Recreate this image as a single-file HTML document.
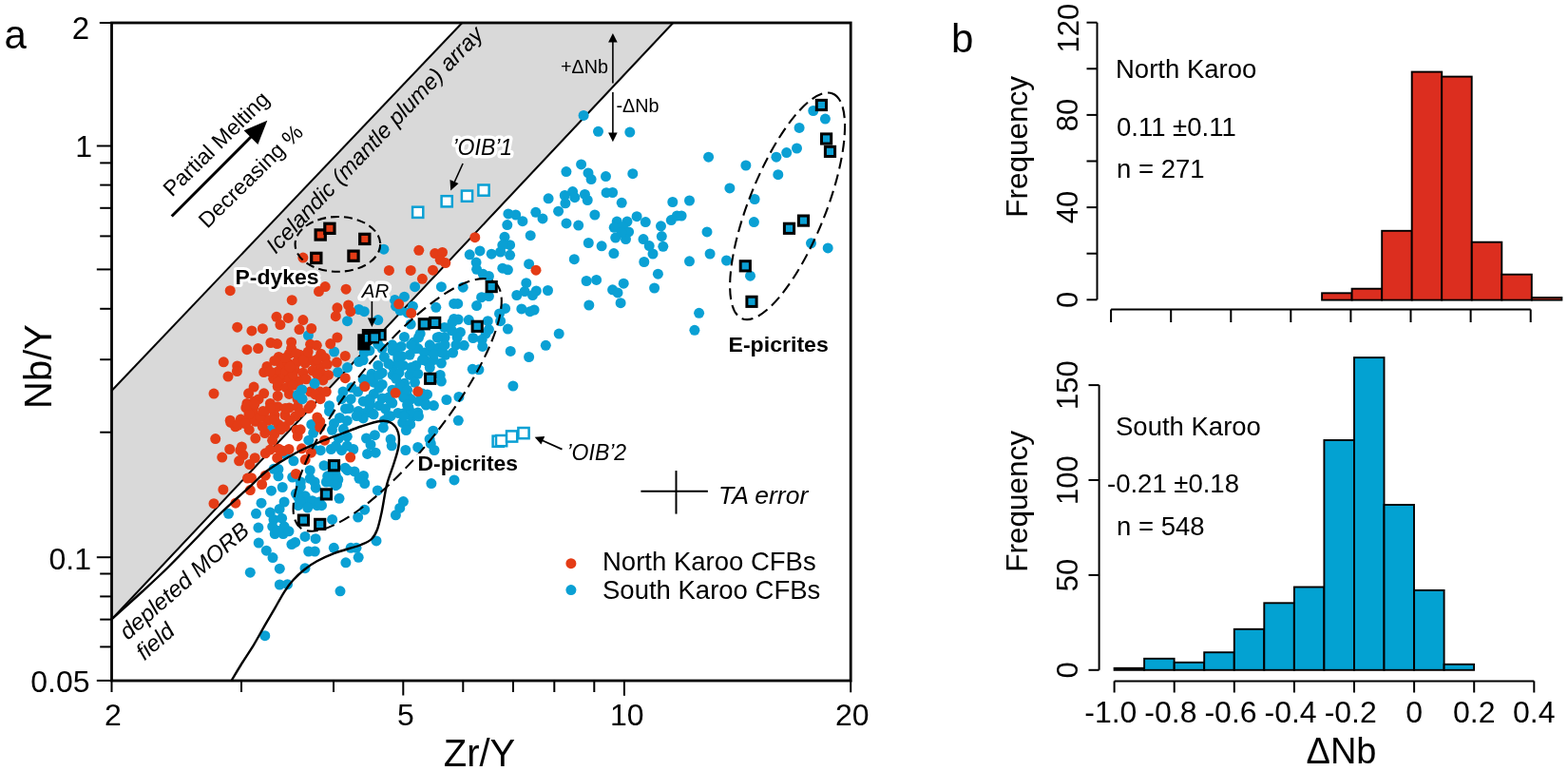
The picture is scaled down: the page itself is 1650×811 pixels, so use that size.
<!DOCTYPE html>
<html><head><meta charset="utf-8"><title>Karoo CFB Nb/Y vs Zr/Y and delta-Nb histograms</title>
<style>html,body{margin:0;padding:0;background:#fff;}svg{display:block;}text{fill:#000;}</style></head>
<body><svg width="1650" height="811" viewBox="0 0 1650 811" font-family='"Liberation Sans", Arial, sans-serif'>
<rect width="1650" height="811" fill="#fff"/>
<polygon points="117.5,411 486.3,24 708.3,24 117.5,651.5" fill="#d9d9d9"/>
<line x1="117.5" y1="411" x2="486.3" y2="24" stroke="#000" stroke-width="2"/>
<line x1="117.5" y1="651.5" x2="708.3" y2="24" stroke="#000" stroke-width="2"/>
<circle cx="614.1" cy="121.4" r="5.5" fill="#0aa0d4"/><circle cx="629.5" cy="138.3" r="5.5" fill="#0aa0d4"/><circle cx="662.8" cy="139.1" r="5.5" fill="#0aa0d4"/><circle cx="611.6" cy="172.9" r="5.5" fill="#0aa0d4"/><circle cx="595.9" cy="180.6" r="5.5" fill="#0aa0d4"/><circle cx="619.0" cy="181.9" r="5.5" fill="#0aa0d4"/><circle cx="637.5" cy="185.6" r="5.5" fill="#0aa0d4"/><circle cx="665.8" cy="182.7" r="5.5" fill="#0aa0d4"/><circle cx="622.1" cy="188.6" r="5.5" fill="#0aa0d4"/><circle cx="644.6" cy="202.5" r="5.5" fill="#0aa0d4"/><circle cx="654.2" cy="213.3" r="5.5" fill="#0aa0d4"/><circle cx="707.8" cy="212.5" r="5.5" fill="#0aa0d4"/><circle cx="725.5" cy="211.0" r="5.5" fill="#0aa0d4"/><circle cx="745.6" cy="165.2" r="5.5" fill="#0aa0d4"/><circle cx="784.9" cy="174.0" r="5.5" fill="#0aa0d4"/><circle cx="767.9" cy="197.9" r="5.5" fill="#0aa0d4"/><circle cx="794.1" cy="209.5" r="5.5" fill="#0aa0d4"/><circle cx="818.8" cy="183.7" r="5.5" fill="#0aa0d4"/><circle cx="816.9" cy="165.2" r="5.5" fill="#0aa0d4"/><circle cx="827.7" cy="160.6" r="5.5" fill="#0aa0d4"/><circle cx="838.5" cy="156.0" r="5.5" fill="#0aa0d4"/><circle cx="841.1" cy="134.4" r="5.5" fill="#0aa0d4"/><circle cx="855.8" cy="116.5" r="5.5" fill="#0aa0d4"/><circle cx="868.4" cy="125.1" r="5.5" fill="#0aa0d4"/><circle cx="670.1" cy="227.7" r="5.5" fill="#0aa0d4"/><circle cx="679.3" cy="233.6" r="5.5" fill="#0aa0d4"/><circle cx="649.2" cy="233.1" r="5.5" fill="#0aa0d4"/><circle cx="660.0" cy="233.1" r="5.5" fill="#0aa0d4"/><circle cx="646.2" cy="239.3" r="5.5" fill="#0aa0d4"/><circle cx="655.4" cy="238.5" r="5.5" fill="#0aa0d4"/><circle cx="661.6" cy="243.9" r="5.5" fill="#0aa0d4"/><circle cx="647.7" cy="250.1" r="5.5" fill="#0aa0d4"/><circle cx="658.5" cy="251.6" r="5.5" fill="#0aa0d4"/><circle cx="653.9" cy="244.7" r="5.5" fill="#0aa0d4"/><circle cx="695.5" cy="237.8" r="5.5" fill="#0aa0d4"/><circle cx="696.3" cy="248.6" r="5.5" fill="#0aa0d4"/><circle cx="697.8" cy="259.3" r="5.5" fill="#0aa0d4"/><circle cx="677.0" cy="251.6" r="5.5" fill="#0aa0d4"/><circle cx="683.2" cy="258.6" r="5.5" fill="#0aa0d4"/><circle cx="687.0" cy="267.0" r="5.5" fill="#0aa0d4"/><circle cx="706.3" cy="231.6" r="5.5" fill="#0aa0d4"/><circle cx="712.4" cy="227.0" r="5.5" fill="#0aa0d4"/><circle cx="717.1" cy="227.0" r="5.5" fill="#0aa0d4"/><circle cx="645.9" cy="266.6" r="5.5" fill="#0aa0d4"/><circle cx="677.8" cy="275.5" r="5.5" fill="#0aa0d4"/><circle cx="725.5" cy="274.8" r="5.5" fill="#0aa0d4"/><circle cx="744.0" cy="243.9" r="5.5" fill="#0aa0d4"/><circle cx="747.1" cy="267.0" r="5.5" fill="#0aa0d4"/><circle cx="764.5" cy="274.0" r="5.5" fill="#0aa0d4"/><circle cx="793.4" cy="233.6" r="5.5" fill="#0aa0d4"/><circle cx="692.4" cy="288.2" r="5.5" fill="#0aa0d4"/><circle cx="656.2" cy="298.2" r="5.5" fill="#0aa0d4"/><circle cx="688.6" cy="303.0" r="5.5" fill="#0aa0d4"/><circle cx="644.6" cy="304.8" r="5.5" fill="#0aa0d4"/><circle cx="650.0" cy="307.9" r="5.5" fill="#0aa0d4"/><circle cx="653.1" cy="318.7" r="5.5" fill="#0aa0d4"/><circle cx="789.5" cy="290.2" r="5.5" fill="#0aa0d4"/><circle cx="853.5" cy="255.8" r="5.5" fill="#0aa0d4"/><circle cx="871.2" cy="260.9" r="5.5" fill="#0aa0d4"/><circle cx="735.6" cy="329.3" r="5.5" fill="#0aa0d4"/><circle cx="730.9" cy="347.3" r="5.5" fill="#0aa0d4"/><circle cx="577.1" cy="208.8" r="5.5" fill="#0aa0d4"/><circle cx="594.3" cy="205.5" r="5.5" fill="#0aa0d4"/><circle cx="602.6" cy="201.6" r="5.5" fill="#0aa0d4"/><circle cx="604.8" cy="207.7" r="5.5" fill="#0aa0d4"/><circle cx="594.9" cy="213.8" r="5.5" fill="#0aa0d4"/><circle cx="587.6" cy="222.2" r="5.5" fill="#0aa0d4"/><circle cx="615.4" cy="204.4" r="5.5" fill="#0aa0d4"/><circle cx="618.2" cy="210.5" r="5.5" fill="#0aa0d4"/><circle cx="638.1" cy="202.7" r="5.5" fill="#0aa0d4"/><circle cx="625.9" cy="226.0" r="5.5" fill="#0aa0d4"/><circle cx="596.0" cy="234.9" r="5.5" fill="#0aa0d4"/><circle cx="608.7" cy="237.1" r="5.5" fill="#0aa0d4"/><circle cx="534.9" cy="224.9" r="5.5" fill="#0aa0d4"/><circle cx="542.7" cy="226.0" r="5.5" fill="#0aa0d4"/><circle cx="549.9" cy="232.7" r="5.5" fill="#0aa0d4"/><circle cx="563.8" cy="223.3" r="5.5" fill="#0aa0d4"/><circle cx="571.0" cy="229.9" r="5.5" fill="#0aa0d4"/><circle cx="533.8" cy="236.6" r="5.5" fill="#0aa0d4"/><circle cx="558.2" cy="247.7" r="5.5" fill="#0aa0d4"/><circle cx="531.0" cy="249.3" r="5.5" fill="#0aa0d4"/><circle cx="536.6" cy="257.7" r="5.5" fill="#0aa0d4"/><circle cx="619.3" cy="255.5" r="5.5" fill="#0aa0d4"/><circle cx="633.1" cy="258.8" r="5.5" fill="#0aa0d4"/><circle cx="494.2" cy="267.8" r="5.5" fill="#0aa0d4"/><circle cx="505.0" cy="263.9" r="5.5" fill="#0aa0d4"/><circle cx="517.2" cy="267.2" r="5.5" fill="#0aa0d4"/><circle cx="526.6" cy="265.0" r="5.5" fill="#0aa0d4"/><circle cx="536.6" cy="268.3" r="5.5" fill="#0aa0d4"/><circle cx="528.8" cy="257.8" r="5.5" fill="#0aa0d4"/><circle cx="501.1" cy="276.1" r="5.5" fill="#0aa0d4"/><circle cx="501.6" cy="283.3" r="5.5" fill="#0aa0d4"/><circle cx="508.3" cy="288.3" r="5.5" fill="#0aa0d4"/><circle cx="514.4" cy="290.5" r="5.5" fill="#0aa0d4"/><circle cx="528.8" cy="282.2" r="5.5" fill="#0aa0d4"/><circle cx="534.4" cy="283.8" r="5.5" fill="#0aa0d4"/><circle cx="556.6" cy="277.7" r="5.5" fill="#0aa0d4"/><circle cx="604.3" cy="272.7" r="5.5" fill="#0aa0d4"/><circle cx="617.1" cy="295.5" r="5.5" fill="#0aa0d4"/><circle cx="627.6" cy="294.4" r="5.5" fill="#0aa0d4"/><circle cx="619.8" cy="321.0" r="5.5" fill="#0aa0d4"/><circle cx="553.8" cy="297.7" r="5.5" fill="#0aa0d4"/><circle cx="543.8" cy="310.5" r="5.5" fill="#0aa0d4"/><circle cx="552.1" cy="306.6" r="5.5" fill="#0aa0d4"/><circle cx="564.3" cy="306.0" r="5.5" fill="#0aa0d4"/><circle cx="560.5" cy="310.5" r="5.5" fill="#0aa0d4"/><circle cx="576.5" cy="305.5" r="5.5" fill="#0aa0d4"/><circle cx="548.8" cy="324.9" r="5.5" fill="#0aa0d4"/><circle cx="562.1" cy="326.0" r="5.5" fill="#0aa0d4"/><circle cx="557.7" cy="327.7" r="5.5" fill="#0aa0d4"/><circle cx="487.2" cy="302.2" r="5.5" fill="#0aa0d4"/><circle cx="506.6" cy="312.7" r="5.5" fill="#0aa0d4"/><circle cx="514.4" cy="311.6" r="5.5" fill="#0aa0d4"/><circle cx="501.6" cy="321.6" r="5.5" fill="#0aa0d4"/><circle cx="481.7" cy="319.4" r="5.5" fill="#0aa0d4"/><circle cx="531.6" cy="324.4" r="5.5" fill="#0aa0d4"/><circle cx="525.5" cy="329.9" r="5.5" fill="#0aa0d4"/><circle cx="482.2" cy="336.0" r="5.5" fill="#0aa0d4"/><circle cx="493.3" cy="336.6" r="5.5" fill="#0aa0d4"/><circle cx="513.3" cy="337.7" r="5.5" fill="#0aa0d4"/><circle cx="526.6" cy="337.7" r="5.5" fill="#0aa0d4"/><circle cx="514.4" cy="346.6" r="5.5" fill="#0aa0d4"/><circle cx="534.4" cy="346.1" r="5.5" fill="#0aa0d4"/><circle cx="588.2" cy="351.1" r="5.5" fill="#0aa0d4"/><circle cx="574.3" cy="363.3" r="5.5" fill="#0aa0d4"/><circle cx="537.2" cy="369.4" r="5.5" fill="#0aa0d4"/><circle cx="556.6" cy="375.5" r="5.5" fill="#0aa0d4"/><circle cx="484.4" cy="349.4" r="5.5" fill="#0aa0d4"/><circle cx="481.1" cy="355.0" r="5.5" fill="#0aa0d4"/><circle cx="488.3" cy="363.3" r="5.5" fill="#0aa0d4"/><circle cx="497.8" cy="355.5" r="5.5" fill="#0aa0d4"/><circle cx="507.2" cy="357.2" r="5.5" fill="#0aa0d4"/><circle cx="507.7" cy="364.4" r="5.5" fill="#0aa0d4"/><circle cx="511.1" cy="351.1" r="5.5" fill="#0aa0d4"/><circle cx="497.2" cy="388.3" r="5.5" fill="#0aa0d4"/><circle cx="503.9" cy="388.8" r="5.5" fill="#0aa0d4"/><circle cx="539.9" cy="406.0" r="5.5" fill="#0aa0d4"/><circle cx="423.7" cy="412.5" r="5.5" fill="#0aa0d4"/><circle cx="432.3" cy="419.9" r="5.5" fill="#0aa0d4"/><circle cx="449.6" cy="414.9" r="5.5" fill="#0aa0d4"/><circle cx="447.1" cy="423.6" r="5.5" fill="#0aa0d4"/><circle cx="456.4" cy="426.6" r="5.5" fill="#0aa0d4"/><circle cx="469.9" cy="420.5" r="5.5" fill="#0aa0d4"/><circle cx="482.3" cy="442.3" r="5.5" fill="#0aa0d4"/><circle cx="439.7" cy="434.0" r="5.5" fill="#0aa0d4"/><circle cx="429.9" cy="428.5" r="5.5" fill="#0aa0d4"/><circle cx="424.9" cy="434.7" r="5.5" fill="#0aa0d4"/><circle cx="433.6" cy="438.4" r="5.5" fill="#0aa0d4"/><circle cx="423.7" cy="444.5" r="5.5" fill="#0aa0d4"/><circle cx="431.7" cy="446.4" r="5.5" fill="#0aa0d4"/><circle cx="427.4" cy="452.5" r="5.5" fill="#0aa0d4"/><circle cx="455.8" cy="453.2" r="5.5" fill="#0aa0d4"/><circle cx="452.1" cy="461.8" r="5.5" fill="#0aa0d4"/><circle cx="453.3" cy="466.7" r="5.5" fill="#0aa0d4"/><circle cx="457.0" cy="473.5" r="5.5" fill="#0aa0d4"/><circle cx="439.7" cy="470.4" r="5.5" fill="#0aa0d4"/><circle cx="426.8" cy="473.5" r="5.5" fill="#0aa0d4"/><circle cx="478.0" cy="504.9" r="5.5" fill="#0aa0d4"/><circle cx="453.9" cy="508.6" r="5.5" fill="#0aa0d4"/><circle cx="382.5" cy="500.5" r="5.5" fill="#0aa0d4"/><circle cx="383.7" cy="508.5" r="5.5" fill="#0aa0d4"/><circle cx="397.3" cy="515.9" r="5.5" fill="#0aa0d4"/><circle cx="424.4" cy="527.6" r="5.5" fill="#0aa0d4"/><circle cx="420.7" cy="534.4" r="5.5" fill="#0aa0d4"/><circle cx="416.4" cy="541.8" r="5.5" fill="#0aa0d4"/><circle cx="383.7" cy="536.2" r="5.5" fill="#0aa0d4"/><circle cx="396.0" cy="568.9" r="5.5" fill="#0aa0d4"/><circle cx="272.2" cy="571.1" r="5.5" fill="#0aa0d4"/><circle cx="280.3" cy="579.2" r="5.5" fill="#0aa0d4"/><circle cx="287.0" cy="586.6" r="5.5" fill="#0aa0d4"/><circle cx="263.3" cy="602.2" r="5.5" fill="#0aa0d4"/><circle cx="294.3" cy="598.2" r="5.5" fill="#0aa0d4"/><circle cx="294.3" cy="615.0" r="5.5" fill="#0aa0d4"/><circle cx="302.5" cy="614.7" r="5.5" fill="#0aa0d4"/><circle cx="321.0" cy="597.7" r="5.5" fill="#0aa0d4"/><circle cx="306.9" cy="572.6" r="5.5" fill="#0aa0d4"/><circle cx="310.6" cy="570.4" r="5.5" fill="#0aa0d4"/><circle cx="324.7" cy="580.0" r="5.5" fill="#0aa0d4"/><circle cx="331.3" cy="580.0" r="5.5" fill="#0aa0d4"/><circle cx="321.0" cy="564.4" r="5.5" fill="#0aa0d4"/><circle cx="332.1" cy="566.7" r="5.5" fill="#0aa0d4"/><circle cx="289.2" cy="561.5" r="5.5" fill="#0aa0d4"/><circle cx="298.0" cy="561.5" r="5.5" fill="#0aa0d4"/><circle cx="351.3" cy="576.3" r="5.5" fill="#0aa0d4"/><circle cx="369.1" cy="576.3" r="5.5" fill="#0aa0d4"/><circle cx="375.0" cy="576.3" r="5.5" fill="#0aa0d4"/><circle cx="377.2" cy="586.3" r="5.5" fill="#0aa0d4"/><circle cx="363.9" cy="591.8" r="5.5" fill="#0aa0d4"/><circle cx="358.0" cy="621.8" r="5.5" fill="#0aa0d4"/><circle cx="278.8" cy="668.7" r="5.5" fill="#0aa0d4"/><circle cx="240.5" cy="540.3" r="5.5" fill="#0aa0d4"/><circle cx="269.5" cy="540.3" r="5.5" fill="#0aa0d4"/><circle cx="275.0" cy="529.2" r="5.5" fill="#0aa0d4"/><circle cx="285.5" cy="516.2" r="5.5" fill="#0aa0d4"/><circle cx="297.2" cy="512.5" r="5.5" fill="#0aa0d4"/><circle cx="292.9" cy="493.4" r="5.5" fill="#0aa0d4"/><circle cx="292.9" cy="500.8" r="5.5" fill="#0aa0d4"/><circle cx="308.9" cy="484.8" r="5.5" fill="#0aa0d4"/><circle cx="307.7" cy="502.1" r="5.5" fill="#0aa0d4"/><circle cx="326.2" cy="494.7" r="5.5" fill="#0aa0d4"/><circle cx="326.2" cy="503.3" r="5.5" fill="#0aa0d4"/><circle cx="316.3" cy="511.9" r="5.5" fill="#0aa0d4"/><circle cx="318.8" cy="521.8" r="5.5" fill="#0aa0d4"/><circle cx="311.4" cy="519.3" r="5.5" fill="#0aa0d4"/><circle cx="313.8" cy="531.7" r="5.5" fill="#0aa0d4"/><circle cx="323.7" cy="528.0" r="5.5" fill="#0aa0d4"/><circle cx="333.6" cy="531.7" r="5.5" fill="#0aa0d4"/><circle cx="338.5" cy="531.7" r="5.5" fill="#0aa0d4"/><circle cx="332.3" cy="513.2" r="5.5" fill="#0aa0d4"/><circle cx="343.4" cy="507.0" r="5.5" fill="#0aa0d4"/><circle cx="353.3" cy="503.3" r="5.5" fill="#0aa0d4"/><circle cx="354.5" cy="509.5" r="5.5" fill="#0aa0d4"/><circle cx="348.4" cy="500.8" r="5.5" fill="#0aa0d4"/><circle cx="341.0" cy="489.7" r="5.5" fill="#0aa0d4"/><circle cx="363.2" cy="492.2" r="5.5" fill="#0aa0d4"/><circle cx="373.0" cy="495.9" r="5.5" fill="#0aa0d4"/><circle cx="357.0" cy="524.3" r="5.5" fill="#0aa0d4"/><circle cx="376.7" cy="544.0" r="5.5" fill="#0aa0d4"/><circle cx="349.6" cy="546.4" r="5.5" fill="#0aa0d4"/><circle cx="329.9" cy="472.5" r="5.5" fill="#0aa0d4"/><circle cx="337.3" cy="473.7" r="5.5" fill="#0aa0d4"/><circle cx="348.4" cy="472.5" r="5.5" fill="#0aa0d4"/><circle cx="359.5" cy="473.7" r="5.5" fill="#0aa0d4"/><circle cx="371.8" cy="472.5" r="5.5" fill="#0aa0d4"/><circle cx="386.6" cy="477.4" r="5.5" fill="#0aa0d4"/><circle cx="395.2" cy="476.2" r="5.5" fill="#0aa0d4"/><circle cx="284.3" cy="539.1" r="5.5" fill="#0aa0d4"/><circle cx="294.1" cy="535.4" r="5.5" fill="#0aa0d4"/><circle cx="299.1" cy="528.0" r="5.5" fill="#0aa0d4"/><circle cx="288.0" cy="546.4" r="5.5" fill="#0aa0d4"/><circle cx="296.6" cy="545.2" r="5.5" fill="#0aa0d4"/><circle cx="286.7" cy="553.8" r="5.5" fill="#0aa0d4"/><circle cx="299.1" cy="553.8" r="5.5" fill="#0aa0d4"/><circle cx="304.0" cy="558.8" r="5.5" fill="#0aa0d4"/><circle cx="271.9" cy="555.1" r="5.5" fill="#0aa0d4"/><circle cx="391.1" cy="393.3" r="5.5" fill="#0aa0d4"/><circle cx="402.2" cy="392.2" r="5.5" fill="#0aa0d4"/><circle cx="413.3" cy="394.4" r="5.5" fill="#0aa0d4"/><circle cx="420.0" cy="392.2" r="5.5" fill="#0aa0d4"/><circle cx="431.1" cy="394.4" r="5.5" fill="#0aa0d4"/><circle cx="439.9" cy="393.3" r="5.5" fill="#0aa0d4"/><circle cx="463.2" cy="394.4" r="5.5" fill="#0aa0d4"/><circle cx="464.4" cy="401.1" r="5.5" fill="#0aa0d4"/><circle cx="425.5" cy="403.3" r="5.5" fill="#0aa0d4"/><circle cx="402.2" cy="404.4" r="5.5" fill="#0aa0d4"/><circle cx="393.3" cy="402.2" r="5.5" fill="#0aa0d4"/><circle cx="393.3" cy="414.4" r="5.5" fill="#0aa0d4"/><circle cx="402.2" cy="418.9" r="5.5" fill="#0aa0d4"/><circle cx="411.1" cy="422.2" r="5.5" fill="#0aa0d4"/><circle cx="382.2" cy="422.2" r="5.5" fill="#0aa0d4"/><circle cx="388.9" cy="426.6" r="5.5" fill="#0aa0d4"/><circle cx="398.9" cy="426.6" r="5.5" fill="#0aa0d4"/><circle cx="405.5" cy="430.0" r="5.5" fill="#0aa0d4"/><circle cx="384.4" cy="434.4" r="5.5" fill="#0aa0d4"/><circle cx="391.1" cy="434.4" r="5.5" fill="#0aa0d4"/><circle cx="382.2" cy="439.9" r="5.5" fill="#0aa0d4"/><circle cx="428.8" cy="416.6" r="5.5" fill="#0aa0d4"/><circle cx="418.8" cy="434.4" r="5.5" fill="#0aa0d4"/><circle cx="411.1" cy="437.7" r="5.5" fill="#0aa0d4"/><circle cx="404.4" cy="442.2" r="5.5" fill="#0aa0d4"/><circle cx="403.3" cy="449.9" r="5.5" fill="#0aa0d4"/><circle cx="411.1" cy="462.1" r="5.5" fill="#0aa0d4"/><circle cx="412.2" cy="468.8" r="5.5" fill="#0aa0d4"/><circle cx="394.4" cy="457.7" r="5.5" fill="#0aa0d4"/><circle cx="385.5" cy="461.0" r="5.5" fill="#0aa0d4"/><circle cx="390.0" cy="467.7" r="5.5" fill="#0aa0d4"/><circle cx="436.6" cy="301.7" r="5.5" fill="#0aa0d4"/><circle cx="464.4" cy="301.7" r="5.5" fill="#0aa0d4"/><circle cx="425.5" cy="312.2" r="5.5" fill="#0aa0d4"/><circle cx="415.5" cy="315.5" r="5.5" fill="#0aa0d4"/><circle cx="416.6" cy="322.2" r="5.5" fill="#0aa0d4"/><circle cx="421.1" cy="326.6" r="5.5" fill="#0aa0d4"/><circle cx="434.4" cy="322.2" r="5.5" fill="#0aa0d4"/><circle cx="428.8" cy="328.9" r="5.5" fill="#0aa0d4"/><circle cx="458.8" cy="323.3" r="5.5" fill="#0aa0d4"/><circle cx="477.7" cy="319.4" r="5.5" fill="#0aa0d4"/><circle cx="477.7" cy="335.5" r="5.5" fill="#0aa0d4"/><circle cx="383.3" cy="327.7" r="5.5" fill="#0aa0d4"/><circle cx="397.8" cy="336.6" r="5.5" fill="#0aa0d4"/><circle cx="432.2" cy="341.1" r="5.5" fill="#0aa0d4"/><circle cx="442.2" cy="351.1" r="5.5" fill="#0aa0d4"/><circle cx="425.5" cy="354.4" r="5.5" fill="#0aa0d4"/><circle cx="462.1" cy="354.4" r="5.5" fill="#0aa0d4"/><circle cx="467.7" cy="344.4" r="5.5" fill="#0aa0d4"/><circle cx="475.4" cy="347.7" r="5.5" fill="#0aa0d4"/><circle cx="435.5" cy="359.9" r="5.5" fill="#0aa0d4"/><circle cx="439.9" cy="366.6" r="5.5" fill="#0aa0d4"/><circle cx="422.2" cy="364.4" r="5.5" fill="#0aa0d4"/><circle cx="413.3" cy="368.8" r="5.5" fill="#0aa0d4"/><circle cx="402.2" cy="366.6" r="5.5" fill="#0aa0d4"/><circle cx="397.8" cy="362.2" r="5.5" fill="#0aa0d4"/><circle cx="388.9" cy="368.8" r="5.5" fill="#0aa0d4"/><circle cx="383.3" cy="371.0" r="5.5" fill="#0aa0d4"/><circle cx="382.2" cy="378.8" r="5.5" fill="#0aa0d4"/><circle cx="404.4" cy="375.5" r="5.5" fill="#0aa0d4"/><circle cx="418.8" cy="377.7" r="5.5" fill="#0aa0d4"/><circle cx="431.1" cy="373.3" r="5.5" fill="#0aa0d4"/><circle cx="446.6" cy="371.0" r="5.5" fill="#0aa0d4"/><circle cx="455.5" cy="366.6" r="5.5" fill="#0aa0d4"/><circle cx="462.1" cy="365.5" r="5.5" fill="#0aa0d4"/><circle cx="468.8" cy="373.3" r="5.5" fill="#0aa0d4"/><circle cx="476.6" cy="371.0" r="5.5" fill="#0aa0d4"/><circle cx="448.8" cy="379.9" r="5.5" fill="#0aa0d4"/><circle cx="464.4" cy="382.1" r="5.5" fill="#0aa0d4"/><circle cx="437.7" cy="384.4" r="5.5" fill="#0aa0d4"/><circle cx="424.4" cy="384.4" r="5.5" fill="#0aa0d4"/><circle cx="397.8" cy="384.4" r="5.5" fill="#0aa0d4"/><circle cx="413.3" cy="385.5" r="5.5" fill="#0aa0d4"/><circle cx="403.9" cy="262.2" r="5.5" fill="#0aa0d4"/><circle cx="377.7" cy="325.5" r="5.5" fill="#0aa0d4"/><circle cx="365.5" cy="337.7" r="5.5" fill="#0aa0d4"/><circle cx="324.4" cy="352.8" r="5.5" fill="#0aa0d4"/><circle cx="351.6" cy="370.0" r="5.5" fill="#0aa0d4"/><circle cx="377.7" cy="380.5" r="5.5" fill="#0aa0d4"/><circle cx="365.5" cy="386.6" r="5.5" fill="#0aa0d4"/><circle cx="355.5" cy="391.6" r="5.5" fill="#0aa0d4"/><circle cx="331.1" cy="403.3" r="5.5" fill="#0aa0d4"/><circle cx="317.7" cy="409.9" r="5.5" fill="#0aa0d4"/><circle cx="313.3" cy="415.5" r="5.5" fill="#0aa0d4"/><circle cx="361.0" cy="412.1" r="5.5" fill="#0aa0d4"/><circle cx="369.9" cy="407.7" r="5.5" fill="#0aa0d4"/><circle cx="376.6" cy="412.1" r="5.5" fill="#0aa0d4"/><circle cx="382.1" cy="398.8" r="5.5" fill="#0aa0d4"/><circle cx="285.0" cy="452.2" r="5.5" fill="#0aa0d4"/><circle cx="299.9" cy="477.7" r="5.5" fill="#0aa0d4"/><circle cx="317.9" cy="419.7" r="5.5" fill="#0aa0d4"/><circle cx="346.5" cy="426.7" r="5.5" fill="#0aa0d4"/><circle cx="346.5" cy="432.6" r="5.5" fill="#0aa0d4"/><circle cx="359.4" cy="419.7" r="5.5" fill="#0aa0d4"/><circle cx="369.2" cy="419.7" r="5.5" fill="#0aa0d4"/><circle cx="389.0" cy="419.7" r="5.5" fill="#0aa0d4"/><circle cx="367.3" cy="429.6" r="5.5" fill="#0aa0d4"/><circle cx="377.1" cy="432.6" r="5.5" fill="#0aa0d4"/><circle cx="357.4" cy="439.5" r="5.5" fill="#0aa0d4"/><circle cx="351.5" cy="445.4" r="5.5" fill="#0aa0d4"/><circle cx="365.3" cy="442.4" r="5.5" fill="#0aa0d4"/><circle cx="375.2" cy="437.5" r="5.5" fill="#0aa0d4"/><circle cx="327.8" cy="446.4" r="5.5" fill="#0aa0d4"/><circle cx="329.7" cy="455.3" r="5.5" fill="#0aa0d4"/><circle cx="349.5" cy="452.3" r="5.5" fill="#0aa0d4"/><circle cx="361.3" cy="451.3" r="5.5" fill="#0aa0d4"/><circle cx="365.3" cy="459.2" r="5.5" fill="#0aa0d4"/><circle cx="356.4" cy="461.2" r="5.5" fill="#0aa0d4"/><circle cx="324.8" cy="463.2" r="5.5" fill="#0aa0d4"/><circle cx="353.4" cy="469.1" r="5.5" fill="#0aa0d4"/><circle cx="365.3" cy="469.1" r="5.5" fill="#0aa0d4"/><circle cx="288.1" cy="493.3" r="5.5" fill="#0aa0d4"/><circle cx="292.0" cy="558.3" r="5.5" fill="#0aa0d4"/><circle cx="416.8" cy="366.8" r="5.5" fill="#0aa0d4"/><circle cx="420.7" cy="382.6" r="5.5" fill="#0aa0d4"/><circle cx="456.2" cy="378.6" r="5.5" fill="#0aa0d4"/><circle cx="389.2" cy="398.3" r="5.5" fill="#0aa0d4"/><circle cx="420.7" cy="406.2" r="5.5" fill="#0aa0d4"/><circle cx="436.5" cy="402.3" r="5.5" fill="#0aa0d4"/><circle cx="408.9" cy="418.1" r="5.5" fill="#0aa0d4"/><circle cx="424.7" cy="418.1" r="5.5" fill="#0aa0d4"/><circle cx="440.5" cy="422.0" r="5.5" fill="#0aa0d4"/><circle cx="432.6" cy="433.8" r="5.5" fill="#0aa0d4"/><circle cx="468.1" cy="355.0" r="5.5" fill="#0aa0d4"/><circle cx="476.0" cy="339.2" r="5.5" fill="#0aa0d4"/><circle cx="464.1" cy="370.7" r="5.5" fill="#0aa0d4"/><circle cx="452.3" cy="362.8" r="5.5" fill="#0aa0d4"/><circle cx="412.8" cy="362.8" r="5.5" fill="#0aa0d4"/><circle cx="422.7" cy="374.7" r="5.5" fill="#0aa0d4"/><circle cx="436.5" cy="366.8" r="5.5" fill="#0aa0d4"/><circle cx="444.4" cy="378.6" r="5.5" fill="#0aa0d4"/><circle cx="452.3" cy="386.5" r="5.5" fill="#0aa0d4"/><circle cx="408.9" cy="382.6" r="5.5" fill="#0aa0d4"/><circle cx="399.0" cy="394.4" r="5.5" fill="#0aa0d4"/><circle cx="416.8" cy="398.3" r="5.5" fill="#0aa0d4"/><circle cx="432.6" cy="386.5" r="5.5" fill="#0aa0d4"/><circle cx="383.3" cy="406.2" r="5.5" fill="#0aa0d4"/><circle cx="399.0" cy="408.2" r="5.5" fill="#0aa0d4"/><circle cx="412.8" cy="410.2" r="5.5" fill="#0aa0d4"/><circle cx="428.6" cy="410.2" r="5.5" fill="#0aa0d4"/><circle cx="444.4" cy="414.1" r="5.5" fill="#0aa0d4"/><circle cx="389.2" cy="422.0" r="5.5" fill="#0aa0d4"/><circle cx="412.8" cy="424.0" r="5.5" fill="#0aa0d4"/><circle cx="428.6" cy="426.0" r="5.5" fill="#0aa0d4"/><circle cx="448.3" cy="426.0" r="5.5" fill="#0aa0d4"/><circle cx="363.5" cy="429.9" r="5.5" fill="#0aa0d4"/><circle cx="393.1" cy="435.8" r="5.5" fill="#0aa0d4"/><circle cx="408.9" cy="437.8" r="5.5" fill="#0aa0d4"/><circle cx="424.7" cy="437.8" r="5.5" fill="#0aa0d4"/><circle cx="440.5" cy="437.8" r="5.5" fill="#0aa0d4"/><circle cx="456.2" cy="372.7" r="5.5" fill="#0aa0d4"/><circle cx="468.1" cy="362.8" r="5.5" fill="#0aa0d4"/><circle cx="479.9" cy="362.8" r="5.5" fill="#0aa0d4"/><circle cx="460.2" cy="355.0" r="5.5" fill="#0aa0d4"/><circle cx="440.5" cy="355.0" r="5.5" fill="#0aa0d4"/><circle cx="432.6" cy="362.8" r="5.5" fill="#0aa0d4"/><circle cx="418.8" cy="374.7" r="5.5" fill="#0aa0d4"/><circle cx="482.9" cy="417.4" r="5.5" fill="#0aa0d4"/><circle cx="316.3" cy="507.0" r="5.5" fill="#0aa0d4"/><circle cx="321.2" cy="521.8" r="5.5" fill="#0aa0d4"/><circle cx="328.6" cy="526.7" r="5.5" fill="#0aa0d4"/><circle cx="336.0" cy="528.0" r="5.5" fill="#0aa0d4"/><circle cx="348.4" cy="507.0" r="5.5" fill="#0aa0d4"/><circle cx="355.8" cy="504.5" r="5.5" fill="#0aa0d4"/><circle cx="353.3" cy="499.6" r="5.5" fill="#0aa0d4"/><circle cx="344.7" cy="500.8" r="5.5" fill="#0aa0d4"/><circle cx="313.8" cy="523.0" r="5.5" fill="#0aa0d4"/><circle cx="316.3" cy="528.0" r="5.5" fill="#0aa0d4"/><circle cx="323.7" cy="534.1" r="5.5" fill="#0aa0d4"/><circle cx="331.1" cy="507.0" r="5.5" fill="#0aa0d4"/><circle cx="365.6" cy="494.7" r="5.5" fill="#0aa0d4"/><circle cx="378.0" cy="503.3" r="5.5" fill="#0aa0d4"/><circle cx="353.3" cy="510.7" r="5.5" fill="#0aa0d4"/><circle cx="499.8" cy="249.7" r="5.5" fill="#e43c16"/><circle cx="564.0" cy="284.2" r="5.5" fill="#e43c16"/><circle cx="439.7" cy="411.8" r="5.5" fill="#e43c16"/><circle cx="233.7" cy="481.1" r="5.5" fill="#e43c16"/><circle cx="241.7" cy="472.5" r="5.5" fill="#e43c16"/><circle cx="252.8" cy="473.7" r="5.5" fill="#e43c16"/><circle cx="255.9" cy="478.6" r="5.5" fill="#e43c16"/><circle cx="251.6" cy="484.8" r="5.5" fill="#e43c16"/><circle cx="262.7" cy="488.5" r="5.5" fill="#e43c16"/><circle cx="268.2" cy="481.7" r="5.5" fill="#e43c16"/><circle cx="279.3" cy="476.8" r="5.5" fill="#e43c16"/><circle cx="284.3" cy="473.1" r="5.5" fill="#e43c16"/><circle cx="291.7" cy="481.7" r="5.5" fill="#e43c16"/><circle cx="297.8" cy="474.3" r="5.5" fill="#e43c16"/><circle cx="304.0" cy="472.5" r="5.5" fill="#e43c16"/><circle cx="317.5" cy="471.8" r="5.5" fill="#e43c16"/><circle cx="321.2" cy="483.6" r="5.5" fill="#e43c16"/><circle cx="327.4" cy="476.2" r="5.5" fill="#e43c16"/><circle cx="368.7" cy="481.1" r="5.5" fill="#e43c16"/><circle cx="311.4" cy="498.4" r="5.5" fill="#e43c16"/><circle cx="264.5" cy="502.7" r="5.5" fill="#e43c16"/><circle cx="279.3" cy="500.2" r="5.5" fill="#e43c16"/><circle cx="275.6" cy="509.5" r="5.5" fill="#e43c16"/><circle cx="263.3" cy="515.6" r="5.5" fill="#e43c16"/><circle cx="234.9" cy="515.0" r="5.5" fill="#e43c16"/><circle cx="247.9" cy="529.2" r="5.5" fill="#e43c16"/><circle cx="383.9" cy="406.6" r="5.5" fill="#e43c16"/><circle cx="416.1" cy="413.3" r="5.5" fill="#e43c16"/><circle cx="419.7" cy="319.8" r="5.5" fill="#e43c16"/><circle cx="432.7" cy="329.4" r="5.5" fill="#e43c16"/><circle cx="440.8" cy="263.3" r="5.5" fill="#e43c16"/><circle cx="457.7" cy="266.6" r="5.5" fill="#e43c16"/><circle cx="465.5" cy="265.5" r="5.5" fill="#e43c16"/><circle cx="463.2" cy="273.3" r="5.5" fill="#e43c16"/><circle cx="468.8" cy="276.6" r="5.5" fill="#e43c16"/><circle cx="409.4" cy="284.4" r="5.5" fill="#e43c16"/><circle cx="432.2" cy="284.4" r="5.5" fill="#e43c16"/><circle cx="455.5" cy="284.2" r="5.5" fill="#e43c16"/><circle cx="444.4" cy="293.3" r="5.5" fill="#e43c16"/><circle cx="242.2" cy="305.7" r="5.5" fill="#e43c16"/><circle cx="249.7" cy="344.2" r="5.5" fill="#e43c16"/><circle cx="264.9" cy="347.9" r="5.5" fill="#e43c16"/><circle cx="276.4" cy="345.7" r="5.5" fill="#e43c16"/><circle cx="291.0" cy="333.3" r="5.5" fill="#e43c16"/><circle cx="294.9" cy="341.6" r="5.5" fill="#e43c16"/><circle cx="284.9" cy="360.5" r="5.5" fill="#e43c16"/><circle cx="291.6" cy="361.6" r="5.5" fill="#e43c16"/><circle cx="259.9" cy="367.7" r="5.5" fill="#e43c16"/><circle cx="271.6" cy="366.6" r="5.5" fill="#e43c16"/><circle cx="318.9" cy="271.1" r="5.5" fill="#e43c16"/><circle cx="342.2" cy="301.6" r="5.5" fill="#e43c16"/><circle cx="335.5" cy="306.6" r="5.5" fill="#e43c16"/><circle cx="364.1" cy="304.2" r="5.5" fill="#e43c16"/><circle cx="307.2" cy="315.7" r="5.5" fill="#e43c16"/><circle cx="354.9" cy="323.8" r="5.5" fill="#e43c16"/><circle cx="366.6" cy="321.0" r="5.5" fill="#e43c16"/><circle cx="368.8" cy="327.7" r="5.5" fill="#e43c16"/><circle cx="353.3" cy="332.7" r="5.5" fill="#e43c16"/><circle cx="303.3" cy="334.4" r="5.5" fill="#e43c16"/><circle cx="318.9" cy="336.6" r="5.5" fill="#e43c16"/><circle cx="315.0" cy="346.6" r="5.5" fill="#e43c16"/><circle cx="327.7" cy="345.5" r="5.5" fill="#e43c16"/><circle cx="306.6" cy="360.0" r="5.5" fill="#e43c16"/><circle cx="306.6" cy="366.6" r="5.5" fill="#e43c16"/><circle cx="326.6" cy="362.2" r="5.5" fill="#e43c16"/><circle cx="333.3" cy="363.3" r="5.5" fill="#e43c16"/><circle cx="347.7" cy="361.6" r="5.5" fill="#e43c16"/><circle cx="354.9" cy="355.0" r="5.5" fill="#e43c16"/><circle cx="304.4" cy="372.2" r="5.5" fill="#e43c16"/><circle cx="315.5" cy="373.3" r="5.5" fill="#e43c16"/><circle cx="323.3" cy="374.4" r="5.5" fill="#e43c16"/><circle cx="337.7" cy="372.2" r="5.5" fill="#e43c16"/><circle cx="342.2" cy="376.6" r="5.5" fill="#e43c16"/><circle cx="293.3" cy="375.5" r="5.5" fill="#e43c16"/><circle cx="295.5" cy="383.3" r="5.5" fill="#e43c16"/><circle cx="303.3" cy="382.2" r="5.5" fill="#e43c16"/><circle cx="312.2" cy="381.1" r="5.5" fill="#e43c16"/><circle cx="321.1" cy="382.2" r="5.5" fill="#e43c16"/><circle cx="330.0" cy="379.9" r="5.5" fill="#e43c16"/><circle cx="336.6" cy="385.5" r="5.5" fill="#e43c16"/><circle cx="344.4" cy="383.3" r="5.5" fill="#e43c16"/><circle cx="354.4" cy="381.1" r="5.5" fill="#e43c16"/><circle cx="363.3" cy="374.4" r="5.5" fill="#e43c16"/><circle cx="292.2" cy="391.0" r="5.5" fill="#e43c16"/><circle cx="301.1" cy="391.0" r="5.5" fill="#e43c16"/><circle cx="310.0" cy="388.8" r="5.5" fill="#e43c16"/><circle cx="318.9" cy="392.2" r="5.5" fill="#e43c16"/><circle cx="328.8" cy="389.9" r="5.5" fill="#e43c16"/><circle cx="337.7" cy="392.2" r="5.5" fill="#e43c16"/><circle cx="345.5" cy="394.4" r="5.5" fill="#e43c16"/><circle cx="363.3" cy="397.7" r="5.5" fill="#e43c16"/><circle cx="295.5" cy="398.8" r="5.5" fill="#e43c16"/><circle cx="304.4" cy="398.8" r="5.5" fill="#e43c16"/><circle cx="314.4" cy="401.0" r="5.5" fill="#e43c16"/><circle cx="322.2" cy="398.8" r="5.5" fill="#e43c16"/><circle cx="339.9" cy="399.9" r="5.5" fill="#e43c16"/><circle cx="292.2" cy="406.6" r="5.5" fill="#e43c16"/><circle cx="301.1" cy="407.7" r="5.5" fill="#e43c16"/><circle cx="304.4" cy="414.4" r="5.5" fill="#e43c16"/><circle cx="326.6" cy="412.1" r="5.5" fill="#e43c16"/><circle cx="336.6" cy="412.1" r="5.5" fill="#e43c16"/><circle cx="343.3" cy="412.1" r="5.5" fill="#e43c16"/><circle cx="235.3" cy="380.8" r="5.5" fill="#e43c16"/><circle cx="249.7" cy="385.0" r="5.5" fill="#e43c16"/><circle cx="249.4" cy="390.5" r="5.5" fill="#e43c16"/><circle cx="240.0" cy="396.0" r="5.5" fill="#e43c16"/><circle cx="225.0" cy="414.1" r="5.5" fill="#e43c16"/><circle cx="288.8" cy="379.4" r="5.5" fill="#e43c16"/><circle cx="281.0" cy="385.5" r="5.5" fill="#e43c16"/><circle cx="277.7" cy="391.6" r="5.5" fill="#e43c16"/><circle cx="287.7" cy="398.3" r="5.5" fill="#e43c16"/><circle cx="267.1" cy="407.1" r="5.5" fill="#e43c16"/><circle cx="261.6" cy="413.8" r="5.5" fill="#e43c16"/><circle cx="277.7" cy="413.8" r="5.5" fill="#e43c16"/><circle cx="272.1" cy="419.9" r="5.5" fill="#e43c16"/><circle cx="259.9" cy="424.4" r="5.5" fill="#e43c16"/><circle cx="284.4" cy="424.4" r="5.5" fill="#e43c16"/><circle cx="292.1" cy="427.7" r="5.5" fill="#e43c16"/><circle cx="266.6" cy="428.8" r="5.5" fill="#e43c16"/><circle cx="267.7" cy="422.2" r="5.5" fill="#e43c16"/><circle cx="258.8" cy="428.9" r="5.5" fill="#e43c16"/><circle cx="304.4" cy="428.9" r="5.5" fill="#e43c16"/><circle cx="313.2" cy="427.8" r="5.5" fill="#e43c16"/><circle cx="266.6" cy="434.4" r="5.5" fill="#e43c16"/><circle cx="277.7" cy="434.4" r="5.5" fill="#e43c16"/><circle cx="288.8" cy="436.6" r="5.5" fill="#e43c16"/><circle cx="299.9" cy="436.6" r="5.5" fill="#e43c16"/><circle cx="311.0" cy="437.7" r="5.5" fill="#e43c16"/><circle cx="242.2" cy="442.2" r="5.5" fill="#e43c16"/><circle cx="253.3" cy="441.1" r="5.5" fill="#e43c16"/><circle cx="268.8" cy="443.3" r="5.5" fill="#e43c16"/><circle cx="282.2" cy="442.2" r="5.5" fill="#e43c16"/><circle cx="293.3" cy="446.6" r="5.5" fill="#e43c16"/><circle cx="247.7" cy="448.8" r="5.5" fill="#e43c16"/><circle cx="262.2" cy="452.2" r="5.5" fill="#e43c16"/><circle cx="278.8" cy="455.5" r="5.5" fill="#e43c16"/><circle cx="288.8" cy="456.6" r="5.5" fill="#e43c16"/><circle cx="299.9" cy="448.8" r="5.5" fill="#e43c16"/><circle cx="312.1" cy="452.2" r="5.5" fill="#e43c16"/><circle cx="313.2" cy="458.8" r="5.5" fill="#e43c16"/><circle cx="226.7" cy="461.6" r="5.5" fill="#e43c16"/><circle cx="268.8" cy="461.1" r="5.5" fill="#e43c16"/><circle cx="286.6" cy="463.3" r="5.5" fill="#e43c16"/><circle cx="293.3" cy="472.2" r="5.5" fill="#e43c16"/><circle cx="254.4" cy="469.9" r="5.5" fill="#e43c16"/><circle cx="331.7" cy="414.8" r="5.5" fill="#e43c16"/><circle cx="324.8" cy="429.6" r="5.5" fill="#e43c16"/><circle cx="315.9" cy="433.6" r="5.5" fill="#e43c16"/><circle cx="336.7" cy="443.4" r="5.5" fill="#e43c16"/><circle cx="336.7" cy="449.4" r="5.5" fill="#e43c16"/><circle cx="341.6" cy="463.2" r="5.5" fill="#e43c16"/><circle cx="260.5" cy="503.1" r="5.5" fill="#e43c16"/><circle cx="225.0" cy="529.7" r="5.5" fill="#e43c16"/><circle cx="292.2" cy="402.1" r="5.5" fill="#e43c16"/><circle cx="284.2" cy="429.4" r="5.5" fill="#e43c16"/><circle cx="300.2" cy="429.4" r="5.5" fill="#e43c16"/><circle cx="319.4" cy="378.1" r="5.5" fill="#e43c16"/><circle cx="324.2" cy="370.1" r="5.5" fill="#e43c16"/><circle cx="300.2" cy="376.5" r="5.5" fill="#e43c16"/><circle cx="311.4" cy="371.7" r="5.5" fill="#e43c16"/><circle cx="308.2" cy="394.1" r="5.5" fill="#e43c16"/><circle cx="292.2" cy="416.5" r="5.5" fill="#e43c16"/><circle cx="305.0" cy="442.2" r="5.5" fill="#e43c16"/><circle cx="327.4" cy="426.2" r="5.5" fill="#e43c16"/><circle cx="313.0" cy="419.7" r="5.5" fill="#e43c16"/><circle cx="333.8" cy="394.1" r="5.5" fill="#e43c16"/><circle cx="333.8" cy="378.1" r="5.5" fill="#e43c16"/><circle cx="289.0" cy="442.2" r="5.5" fill="#e43c16"/><circle cx="256.9" cy="445.4" r="5.5" fill="#e43c16"/><circle cx="276.2" cy="448.6" r="5.5" fill="#e43c16"/><circle cx="295.4" cy="451.8" r="5.5" fill="#e43c16"/><circle cx="316.2" cy="451.8" r="5.5" fill="#e43c16"/><circle cx="333.8" cy="439.0" r="5.5" fill="#e43c16"/><circle cx="337.1" cy="419.7" r="5.5" fill="#e43c16"/><circle cx="308.2" cy="405.3" r="5.5" fill="#e43c16"/><circle cx="284.2" cy="390.9" r="5.5" fill="#e43c16"/><circle cx="305.0" cy="386.1" r="5.5" fill="#e43c16"/><circle cx="242.8" cy="444.4" r="5.5" fill="#e43c16"/><circle cx="250.2" cy="447.3" r="5.5" fill="#e43c16"/><circle cx="259.1" cy="444.4" r="5.5" fill="#e43c16"/><circle cx="267.9" cy="441.4" r="5.5" fill="#e43c16"/><circle cx="262.0" cy="435.5" r="5.5" fill="#e43c16"/><circle cx="273.8" cy="438.5" r="5.5" fill="#e43c16"/><circle cx="260.5" cy="426.6" r="5.5" fill="#e43c16"/><circle cx="267.9" cy="425.1" r="5.5" fill="#e43c16"/><circle cx="276.8" cy="432.5" r="5.5" fill="#e43c16"/><circle cx="313.3" cy="415.5" r="5.5" fill="#0aa0d4"/><circle cx="317.7" cy="409.9" r="5.5" fill="#0aa0d4"/><circle cx="331.1" cy="403.3" r="5.5" fill="#0aa0d4"/><circle cx="317.9" cy="419.7" r="5.5" fill="#0aa0d4"/>
<path d="M117.2,651.7 C122.7,646.8 140.1,631.1 150,622 C159.9,612.9 168.3,605.2 176.6,597 C184.9,588.8 191.1,582.2 200,573 C208.9,563.8 221.7,550.2 230,542 C238.3,533.8 244.2,528.8 250,523.5 C255.8,518.2 260.0,514.6 265,510 C270.0,505.4 274.2,500.5 280,496 C285.8,491.5 293.3,487.0 300,483 C306.7,479.0 313.3,475.2 320,472 C326.7,468.8 333.3,466.2 340,463.5 C346.7,460.8 353.3,458.5 360,456 C366.7,453.5 373.3,450.7 380,448.5 C386.7,446.3 394.7,443.6 400,443 C405.3,442.4 408.8,443.0 412,445 C415.2,447.0 417.8,451.0 419,455 C420.2,459.0 420.2,463.6 419.5,469 C418.8,474.4 416.7,480.5 414.6,487.2 C412.6,493.9 409.4,500.8 407.2,509.4 C405.0,518.0 403.3,531.1 401.6,539 C399.9,546.9 398.8,552.3 397,557 C395.2,561.7 393.8,564.3 391,567 C388.2,569.7 384.2,571.2 380,573 C375.8,574.8 370.8,576.0 366,577.5 C361.2,579.0 356.7,580.1 351.3,582.2 C345.9,584.3 338.8,587.5 333.6,590.3 C328.4,593.1 324.4,595.9 320.2,599.2 C316.0,602.5 311.8,606.5 308.4,610.3 C304.9,614.1 302.7,617.2 299.5,622.1 C296.3,627.0 292.6,634.0 289.2,639.9 C285.8,645.8 282.5,651.2 278.8,657.6 C275.1,664.0 271.0,671.7 267,678.3 C263.0,684.9 258.9,690.7 255,697 C251.1,703.3 245.4,712.8 243.5,716" fill="none" stroke="#000" stroke-width="2.4"/>
<ellipse cx="355.4" cy="256.9" rx="44.8" ry="28.9" fill="none" stroke="#000" stroke-width="2.1" stroke-dasharray="9,5"/>
<ellipse cx="0" cy="0" rx="164.7" ry="50.2" transform="translate(418.2,425.9) rotate(-51.6)" fill="none" stroke="#000" stroke-width="2.1" stroke-dasharray="12,6"/>
<ellipse cx="0" cy="0" rx="127.6" ry="40.2" transform="translate(828.6,216.8) rotate(-68.1)" fill="none" stroke="#000" stroke-width="2.1" stroke-dasharray="12,6"/>
<rect x="332.1" y="241.9" width="10.2" height="10.2" fill="#e43c16" stroke="#000" stroke-width="3.2"/><rect x="341.8" y="235.2" width="10.2" height="10.2" fill="#e43c16" stroke="#000" stroke-width="3.2"/><rect x="378.7" y="246.3" width="10.2" height="10.2" fill="#e43c16" stroke="#000" stroke-width="3.2"/><rect x="327.7" y="266.3" width="10.2" height="10.2" fill="#e43c16" stroke="#000" stroke-width="3.2"/><rect x="366.9" y="264.1" width="10.2" height="10.2" fill="#e43c16" stroke="#000" stroke-width="3.2"/><rect x="859.3" y="105.4" width="10.2" height="10.2" fill="#0aa0d4" stroke="#000" stroke-width="3"/><rect x="864.5" y="140.9" width="10.2" height="10.2" fill="#0aa0d4" stroke="#000" stroke-width="3"/><rect x="868.4" y="154.3" width="10.2" height="10.2" fill="#0aa0d4" stroke="#000" stroke-width="3"/><rect x="840.4" y="227.0" width="10.2" height="10.2" fill="#0aa0d4" stroke="#000" stroke-width="3"/><rect x="825.4" y="235.2" width="10.2" height="10.2" fill="#0aa0d4" stroke="#000" stroke-width="3"/><rect x="779.2" y="274.7" width="10.2" height="10.2" fill="#0aa0d4" stroke="#000" stroke-width="3"/><rect x="785.9" y="312.2" width="10.2" height="10.2" fill="#0aa0d4" stroke="#000" stroke-width="3"/><rect x="441.2" y="335.7" width="10.2" height="10.2" fill="#0aa0d4" stroke="#000" stroke-width="3"/><rect x="452.6" y="334.3" width="10.2" height="10.2" fill="#0aa0d4" stroke="#000" stroke-width="3"/><rect x="512.1" y="296.5" width="10.2" height="10.2" fill="#0aa0d4" stroke="#000" stroke-width="3"/><rect x="497.1" y="338.2" width="10.2" height="10.2" fill="#0aa0d4" stroke="#000" stroke-width="3"/><rect x="447.6" y="393.2" width="10.2" height="10.2" fill="#0aa0d4" stroke="#000" stroke-width="3"/><rect x="346.4" y="484.6" width="10.2" height="10.2" fill="#0aa0d4" stroke="#000" stroke-width="3"/><rect x="338.3" y="514.8" width="10.2" height="10.2" fill="#0aa0d4" stroke="#000" stroke-width="3"/><rect x="314.3" y="542.0" width="10.2" height="10.2" fill="#0aa0d4" stroke="#000" stroke-width="3"/><rect x="331.6" y="546.3" width="10.2" height="10.2" fill="#0aa0d4" stroke="#000" stroke-width="3"/><polygon points="380.8,346 406.7,346 406.7,358.5 399,358.5 399,361.5 389.4,361.5 389.4,368.5 376.3,368.5 376.3,351.2 380.8,351.2" fill="#000"/><rect x="390.4" y="351.3" width="7.6" height="7.6" fill="#0aa0d4"/><rect x="400.6" y="349.2" width="3.2" height="7.2" fill="#0aa0d4"/><rect x="383.9" y="352" width="3.2" height="7.6" fill="#0aa0d4"/><rect x="434.1" y="217.7" width="11.2" height="11.2" fill="#fff" stroke="#0aa0d4" stroke-width="2.5"/><rect x="464.6" y="206.2" width="11.2" height="11.2" fill="#fff" stroke="#0aa0d4" stroke-width="2.5"/><rect x="485.9" y="200.6" width="11.2" height="11.2" fill="#fff" stroke="#0aa0d4" stroke-width="2.5"/><rect x="503.4" y="194.5" width="11.2" height="11.2" fill="#fff" stroke="#0aa0d4" stroke-width="2.5"/><rect x="518.6" y="458.6" width="11.2" height="11.2" fill="#fff" stroke="#0aa0d4" stroke-width="2.5"/><rect x="522.0" y="458.0" width="11.2" height="11.2" fill="#fff" stroke="#0aa0d4" stroke-width="2.5"/><rect x="533.0" y="453.4" width="11.2" height="11.2" fill="#fff" stroke="#0aa0d4" stroke-width="2.5"/><rect x="545.4" y="450.0" width="11.2" height="11.2" fill="#fff" stroke="#0aa0d4" stroke-width="2.5"/>
<rect x="117.5" y="24" width="777.7" height="692" fill="none" stroke="#000" stroke-width="2.8"/>
<line x1="104.8" y1="24.0" x2="117.5" y2="24.0" stroke="#000" stroke-width="2"/>
<line x1="101.8" y1="153.5" x2="117.5" y2="153.5" stroke="#000" stroke-width="2"/>
<line x1="101.8" y1="283.4" x2="117.5" y2="283.4" stroke="#000" stroke-width="2"/>
<line x1="101.8" y1="586.2" x2="117.5" y2="586.2" stroke="#000" stroke-width="2"/>
<line x1="101.8" y1="715.9" x2="117.5" y2="715.9" stroke="#000" stroke-width="2"/>
<line x1="105.2" y1="171.4" x2="117.5" y2="171.4" stroke="#000" stroke-width="2"/>
<line x1="105.2" y1="194.6" x2="117.5" y2="194.6" stroke="#000" stroke-width="2"/>
<line x1="105.2" y1="218.8" x2="117.5" y2="218.8" stroke="#000" stroke-width="2"/>
<line x1="105.2" y1="248.4" x2="117.5" y2="248.4" stroke="#000" stroke-width="2"/>
<line x1="105.2" y1="324.8" x2="117.5" y2="324.8" stroke="#000" stroke-width="2"/>
<line x1="105.2" y1="378.2" x2="117.5" y2="378.2" stroke="#000" stroke-width="2"/>
<line x1="105.2" y1="454.7" x2="117.5" y2="454.7" stroke="#000" stroke-width="2"/>
<line x1="105.2" y1="603.5" x2="117.5" y2="603.5" stroke="#000" stroke-width="2"/>
<line x1="105.2" y1="627.4" x2="117.5" y2="627.4" stroke="#000" stroke-width="2"/>
<line x1="105.2" y1="651.6" x2="117.5" y2="651.6" stroke="#000" stroke-width="2"/>
<line x1="105.2" y1="680.4" x2="117.5" y2="680.4" stroke="#000" stroke-width="2"/>
<line x1="117.5" y1="716" x2="117.5" y2="728" stroke="#000" stroke-width="2"/>
<line x1="254" y1="716" x2="254" y2="728" stroke="#000" stroke-width="2"/>
<line x1="351" y1="716" x2="351" y2="728" stroke="#000" stroke-width="2"/>
<line x1="424.3" y1="716" x2="424.3" y2="731.5" stroke="#000" stroke-width="2"/>
<line x1="487.3" y1="716" x2="487.3" y2="728" stroke="#000" stroke-width="2"/>
<line x1="540" y1="716" x2="540" y2="728" stroke="#000" stroke-width="2"/>
<line x1="583.3" y1="716" x2="583.3" y2="728" stroke="#000" stroke-width="2"/>
<line x1="625.3" y1="716" x2="625.3" y2="728" stroke="#000" stroke-width="2"/>
<line x1="656.9" y1="716" x2="656.9" y2="731.8" stroke="#000" stroke-width="2"/>
<line x1="895.2" y1="716" x2="895.2" y2="728.3" stroke="#000" stroke-width="2"/>
<g font-family='"Liberation Sans", Arial, sans-serif' font-size="32">
<text x="94" y="40.7" font-size="33" text-anchor="end" font-weight="normal" font-style="normal">2</text>
<text x="97" y="164.6" font-size="32" text-anchor="end" font-weight="normal" font-style="normal">1</text>
<text x="96" y="598.8" font-size="32" text-anchor="end" font-weight="normal" font-style="normal">0.1</text>
<text x="94.5" y="727.5" font-size="32" text-anchor="end" font-weight="normal" font-style="normal">0.05</text>
<text x="119" y="763.3" font-size="32" text-anchor="middle" font-weight="normal" font-style="normal">2</text>
<text x="427" y="763.3" font-size="32" text-anchor="middle" font-weight="normal" font-style="normal">5</text>
<text x="659.8" y="763.3" font-size="32" text-anchor="middle" font-weight="normal" font-style="normal">10</text>
<text x="896.8" y="763.3" font-size="32" text-anchor="middle" font-weight="normal" font-style="normal">20</text>
</g>
<g font-family='"Liberation Sans", Arial, sans-serif'>
<text x="4.5" y="50.5" font-size="42" text-anchor="start" font-weight="normal" font-style="normal">a</text>
<text x="504.5" y="806.4" font-size="40" text-anchor="middle" font-weight="normal" font-style="normal">Zr/Y</text>
<text x="53.5" y="385.5" font-size="40" text-anchor="middle" font-weight="normal" font-style="normal" transform="rotate(-90 53.5 385.5)">Nb/Y</text>
<text x="232.9" y="156.8" font-size="23" text-anchor="middle" font-weight="normal" font-style="normal" transform="rotate(-44.5 232.9 156.8)">Partial Melting</text>
<text x="269.3" y="190.8" font-size="23" text-anchor="middle" font-weight="normal" font-style="normal" transform="rotate(-44.5 269.3 190.8)">Decreasing %</text>
<line x1="180.7" y1="227.5" x2="268" y2="140" stroke="#000" stroke-width="3"/>
<polygon points="281.3,126.7 256.6,137.2 271.4,152" fill="#000"/>
<text x="290" y="268" font-size="23.7" text-anchor="start" font-weight="normal" font-style="italic" transform="rotate(-46.4 290 268)">Icelandic (mantle plume) array</text>
<text x="247.5" y="299.2" font-size="22" text-anchor="start" font-weight="bold" font-style="normal" textLength="88" lengthAdjust="spacingAndGlyphs" fill="#fff" stroke="#fff" stroke-width="6" stroke-linejoin="round">P-dykes</text><text x="247.5" y="299.2" font-size="22" text-anchor="start" font-weight="bold" font-style="normal" textLength="88" lengthAdjust="spacingAndGlyphs">P-dykes</text>
<text x="380.8" y="312.9" font-size="20.5" text-anchor="start" font-weight="normal" font-style="italic" fill="#fff" stroke="#fff" stroke-width="7" stroke-linejoin="round">AR</text><text x="380.8" y="312.9" font-size="20.5" text-anchor="start" font-weight="normal" font-style="italic">AR</text>
<line x1="391.4" y1="317" x2="391.4" y2="336" stroke="#000" stroke-width="1.6"/>
<polygon points="391.4,344 386.9,334.5 395.9,334.5" fill="#000"/>
<text x="476.5" y="162.5" font-size="23" text-anchor="start" font-weight="normal" font-style="italic" fill="#fff" stroke="#fff" stroke-width="7" stroke-linejoin="round">’OIB’1</text><text x="476.5" y="162.5" font-size="23" text-anchor="start" font-weight="normal" font-style="italic">’OIB’1</text>
<line x1="487.1" y1="172" x2="478" y2="192" stroke="#000" stroke-width="1.6"/>
<polygon points="474.2,200.5 473.5,189 482.5,193" fill="#000"/>
<text x="596.5" y="484.4" font-size="23" text-anchor="start" font-weight="normal" font-style="italic">’OIB’2</text>
<line x1="591.5" y1="472.6" x2="570" y2="463" stroke="#000" stroke-width="1.8"/>
<polygon points="562.7,459.7 573.2,459 569.4,467.6" fill="#000"/>
<text x="439.5" y="495" font-size="22" text-anchor="start" font-weight="bold" font-style="normal" textLength="105.5" lengthAdjust="spacingAndGlyphs" fill="#fff" stroke="#fff" stroke-width="6" stroke-linejoin="round">D-picrites</text><text x="439.5" y="495" font-size="22" text-anchor="start" font-weight="bold" font-style="normal" textLength="105.5" lengthAdjust="spacingAndGlyphs">D-picrites</text>
<text x="766.5" y="370.2" font-size="22" text-anchor="start" font-weight="bold" font-style="normal" textLength="105.3" lengthAdjust="spacingAndGlyphs" fill="#fff" stroke="#fff" stroke-width="6" stroke-linejoin="round">E-picrites</text><text x="766.5" y="370.2" font-size="22" text-anchor="start" font-weight="bold" font-style="normal" textLength="105.3" lengthAdjust="spacingAndGlyphs">E-picrites</text>
<line x1="674.4" y1="516.8" x2="744.9" y2="516.8" stroke="#000" stroke-width="2"/>
<line x1="711.5" y1="495.1" x2="711.5" y2="540.6" stroke="#000" stroke-width="2"/>
<text x="756" y="529.8" font-size="26.5" text-anchor="start" font-weight="normal" font-style="italic">TA error</text>
<circle cx="600.9" cy="592.7" r="5.5" fill="#e43c16"/>
<circle cx="600.9" cy="620.6" r="5.5" fill="#0aa0d4"/>
<text x="634" y="599.5" font-size="27.5" text-anchor="start" font-weight="normal" font-style="normal">North Karoo CFBs</text>
<text x="634" y="630.1" font-size="27.5" text-anchor="start" font-weight="normal" font-style="normal">South Karoo CFBs</text>
<line x1="644.9" y1="87.5" x2="644.9" y2="44" stroke="#000" stroke-width="1.6"/>
<polygon points="644.9,34.9 640.1,44.5 649.7,44.5" fill="#000"/>
<line x1="644.9" y1="97.1" x2="644.9" y2="140" stroke="#000" stroke-width="1.6"/>
<polygon points="644.9,149.2 640.1,139.6 649.7,139.6" fill="#000"/>
<text x="590" y="77.1" font-size="19.8" text-anchor="start" font-weight="normal" font-style="normal">+ΔNb</text>
<text x="648.5" y="117.6" font-size="19.8" text-anchor="start" font-weight="normal" font-style="normal">-ΔNb</text>
<text x="134.5" y="674" font-size="24.2" text-anchor="start" font-weight="normal" font-style="italic" transform="rotate(-41.3 134.5 674)">depleted MORB</text>
<text x="152" y="695.5" font-size="24.2" text-anchor="start" font-weight="normal" font-style="italic" transform="rotate(-41.3 152 695.5)">field</text>
</g>
<g font-family='"Liberation Sans", Arial, sans-serif'>
<text x="1001" y="55.3" font-size="42" text-anchor="start" font-weight="normal" font-style="normal">b</text>
<rect x="1391.1" y="308.3" width="31.5" height="7.3" fill="#dc2e1f" stroke="#000" stroke-width="1.9"/>
<rect x="1422.6" y="303.7" width="31.5" height="11.9" fill="#dc2e1f" stroke="#000" stroke-width="1.9"/>
<rect x="1454.2" y="242.8" width="31.5" height="72.8" fill="#dc2e1f" stroke="#000" stroke-width="1.9"/>
<rect x="1485.7" y="75.6" width="31.5" height="240.0" fill="#dc2e1f" stroke="#000" stroke-width="1.9"/>
<rect x="1517.2" y="80.6" width="31.5" height="235.0" fill="#dc2e1f" stroke="#000" stroke-width="1.9"/>
<rect x="1548.8" y="254.7" width="31.5" height="60.9" fill="#dc2e1f" stroke="#000" stroke-width="1.9"/>
<rect x="1580.3" y="288.7" width="31.5" height="26.9" fill="#dc2e1f" stroke="#000" stroke-width="1.9"/>
<rect x="1611.9" y="313.0" width="31.5" height="2.6" fill="#dc2e1f" stroke="#000" stroke-width="1.9"/>
<line x1="1154.5" y1="23.7" x2="1154.5" y2="315.3" stroke="#000" stroke-width="2"/>
<line x1="1143.5" y1="315.3" x2="1154.5" y2="315.3" stroke="#000" stroke-width="2"/>
<line x1="1143.5" y1="266.7" x2="1154.5" y2="266.7" stroke="#000" stroke-width="2"/>
<line x1="1143.5" y1="218.1" x2="1154.5" y2="218.1" stroke="#000" stroke-width="2"/>
<line x1="1143.5" y1="169.5" x2="1154.5" y2="169.5" stroke="#000" stroke-width="2"/>
<line x1="1143.5" y1="120.9" x2="1154.5" y2="120.9" stroke="#000" stroke-width="2"/>
<line x1="1143.5" y1="72.3" x2="1154.5" y2="72.3" stroke="#000" stroke-width="2"/>
<line x1="1143.5" y1="23.7" x2="1154.5" y2="23.7" stroke="#000" stroke-width="2"/>
<text x="1134.5" y="315.3" font-size="31" text-anchor="middle" font-weight="normal" font-style="normal" transform="rotate(-90 1134.5 315.3)">0</text>
<text x="1134.5" y="218.10000000000002" font-size="31" text-anchor="middle" font-weight="normal" font-style="normal" transform="rotate(-90 1134.5 218.10000000000002)">40</text>
<text x="1134.5" y="120.9" font-size="31" text-anchor="middle" font-weight="normal" font-style="normal" transform="rotate(-90 1134.5 120.9)">80</text>
<text x="1134.5" y="29.5" font-size="31" text-anchor="middle" font-weight="normal" font-style="normal" transform="rotate(-90 1134.5 29.5)">120</text>
<line x1="1169.1" y1="325.5" x2="1610.7" y2="325.5" stroke="#000" stroke-width="2"/>
<line x1="1169.1" y1="325.5" x2="1169.1" y2="339" stroke="#000" stroke-width="2"/>
<line x1="1232.2" y1="325.5" x2="1232.2" y2="339" stroke="#000" stroke-width="2"/>
<line x1="1295.3" y1="325.5" x2="1295.3" y2="339" stroke="#000" stroke-width="2"/>
<line x1="1358.3" y1="325.5" x2="1358.3" y2="339" stroke="#000" stroke-width="2"/>
<line x1="1421.4" y1="325.5" x2="1421.4" y2="339" stroke="#000" stroke-width="2"/>
<line x1="1484.5" y1="325.5" x2="1484.5" y2="339" stroke="#000" stroke-width="2"/>
<line x1="1547.6" y1="325.5" x2="1547.6" y2="339" stroke="#000" stroke-width="2"/>
<line x1="1610.7" y1="325.5" x2="1610.7" y2="339" stroke="#000" stroke-width="2"/>
<text x="1081" y="154.4" font-size="31.5" text-anchor="middle" font-weight="normal" font-style="normal" transform="rotate(-90 1081 154.4)">Frequency</text>
<text x="1174" y="82.4" font-size="27.5" text-anchor="start" font-weight="normal" font-style="normal">North Karoo</text>
<text x="1175" y="142.5" font-size="27.5" text-anchor="start" font-weight="normal" font-style="normal">0.11 ±0.11</text>
<text x="1175" y="186.9" font-size="27.5" text-anchor="start" font-weight="normal" font-style="normal">n = 271</text>
<rect x="1172.6" y="702.8" width="31.5" height="2.0" fill="#03a2d2" stroke="#000" stroke-width="1.9"/>
<rect x="1204.1" y="692.8" width="31.5" height="12.0" fill="#03a2d2" stroke="#000" stroke-width="1.9"/>
<rect x="1235.7" y="696.8" width="31.6" height="8.0" fill="#03a2d2" stroke="#000" stroke-width="1.9"/>
<rect x="1267.2" y="686.2" width="31.5" height="18.6" fill="#03a2d2" stroke="#000" stroke-width="1.9"/>
<rect x="1298.8" y="661.8" width="31.5" height="43.0" fill="#03a2d2" stroke="#000" stroke-width="1.9"/>
<rect x="1330.3" y="634.3" width="31.5" height="70.5" fill="#03a2d2" stroke="#000" stroke-width="1.9"/>
<rect x="1361.9" y="617.5" width="31.5" height="87.3" fill="#03a2d2" stroke="#000" stroke-width="1.9"/>
<rect x="1393.4" y="463.0" width="31.6" height="241.8" fill="#03a2d2" stroke="#000" stroke-width="1.9"/>
<rect x="1425.0" y="376.1" width="31.5" height="328.7" fill="#03a2d2" stroke="#000" stroke-width="1.9"/>
<rect x="1456.5" y="531.0" width="31.5" height="173.8" fill="#03a2d2" stroke="#000" stroke-width="1.9"/>
<rect x="1488.1" y="620.9" width="31.5" height="83.9" fill="#03a2d2" stroke="#000" stroke-width="1.9"/>
<rect x="1519.6" y="698.8" width="31.5" height="6.0" fill="#03a2d2" stroke="#000" stroke-width="1.9"/>
<line x1="1156.6" y1="405.1" x2="1156.6" y2="704.8" stroke="#000" stroke-width="2"/>
<line x1="1145.5" y1="704.8" x2="1156.6" y2="704.8" stroke="#000" stroke-width="2"/>
<text x="1134" y="704.8" font-size="31" text-anchor="middle" font-weight="normal" font-style="normal" transform="rotate(-90 1134 704.8)">0</text>
<line x1="1145.5" y1="604.9" x2="1156.6" y2="604.9" stroke="#000" stroke-width="2"/>
<text x="1134" y="604.9" font-size="31" text-anchor="middle" font-weight="normal" font-style="normal" transform="rotate(-90 1134 604.9)">50</text>
<line x1="1145.5" y1="505.0" x2="1156.6" y2="505.0" stroke="#000" stroke-width="2"/>
<text x="1134" y="504.99999999999994" font-size="31" text-anchor="middle" font-weight="normal" font-style="normal" transform="rotate(-90 1134 504.99999999999994)">100</text>
<line x1="1145.5" y1="405.1" x2="1156.6" y2="405.1" stroke="#000" stroke-width="2"/>
<text x="1134" y="405.09999999999997" font-size="31" text-anchor="middle" font-weight="normal" font-style="normal" transform="rotate(-90 1134 405.09999999999997)">150</text>
<line x1="1172.6" y1="716.4" x2="1614.3" y2="716.4" stroke="#000" stroke-width="2"/>
<line x1="1172.6" y1="716.4" x2="1172.6" y2="728.5" stroke="#000" stroke-width="2"/>
<text x="1168.8" y="759.8" font-size="32" text-anchor="middle" font-weight="normal" font-style="normal">-1.0</text>
<line x1="1235.7" y1="716.4" x2="1235.7" y2="728.5" stroke="#000" stroke-width="2"/>
<text x="1231.9" y="759.8" font-size="32" text-anchor="middle" font-weight="normal" font-style="normal">-0.8</text>
<line x1="1298.8" y1="716.4" x2="1298.8" y2="728.5" stroke="#000" stroke-width="2"/>
<text x="1295.0" y="759.8" font-size="32" text-anchor="middle" font-weight="normal" font-style="normal">-0.6</text>
<line x1="1361.9" y1="716.4" x2="1361.9" y2="728.5" stroke="#000" stroke-width="2"/>
<text x="1358.1" y="759.8" font-size="32" text-anchor="middle" font-weight="normal" font-style="normal">-0.4</text>
<line x1="1425.0" y1="716.4" x2="1425.0" y2="728.5" stroke="#000" stroke-width="2"/>
<text x="1421.2" y="759.8" font-size="32" text-anchor="middle" font-weight="normal" font-style="normal">-0.2</text>
<line x1="1488.1" y1="716.4" x2="1488.1" y2="728.5" stroke="#000" stroke-width="2"/>
<text x="1488.1" y="759.8" font-size="32" text-anchor="middle" font-weight="normal" font-style="normal">0</text>
<line x1="1551.2" y1="716.4" x2="1551.2" y2="728.5" stroke="#000" stroke-width="2"/>
<text x="1551.2" y="759.8" font-size="32" text-anchor="middle" font-weight="normal" font-style="normal">0.2</text>
<line x1="1614.3" y1="716.4" x2="1614.3" y2="728.5" stroke="#000" stroke-width="2"/>
<text x="1614.3" y="759.8" font-size="32" text-anchor="middle" font-weight="normal" font-style="normal">0.4</text>
<text x="1411.5" y="802.9" font-size="38" text-anchor="middle" font-weight="normal" font-style="normal">ΔNb</text>
<text x="1081" y="527.3" font-size="31.5" text-anchor="middle" font-weight="normal" font-style="normal" transform="rotate(-90 1081 527.3)">Frequency</text>
<text x="1174" y="457.9" font-size="27.5" text-anchor="start" font-weight="normal" font-style="normal">South Karoo</text>
<text x="1165" y="518" font-size="27.5" text-anchor="start" font-weight="normal" font-style="normal">-0.21 ±0.18</text>
<text x="1175" y="563" font-size="27.5" text-anchor="start" font-weight="normal" font-style="normal">n = 548</text>
</g>
</svg></body></html>
